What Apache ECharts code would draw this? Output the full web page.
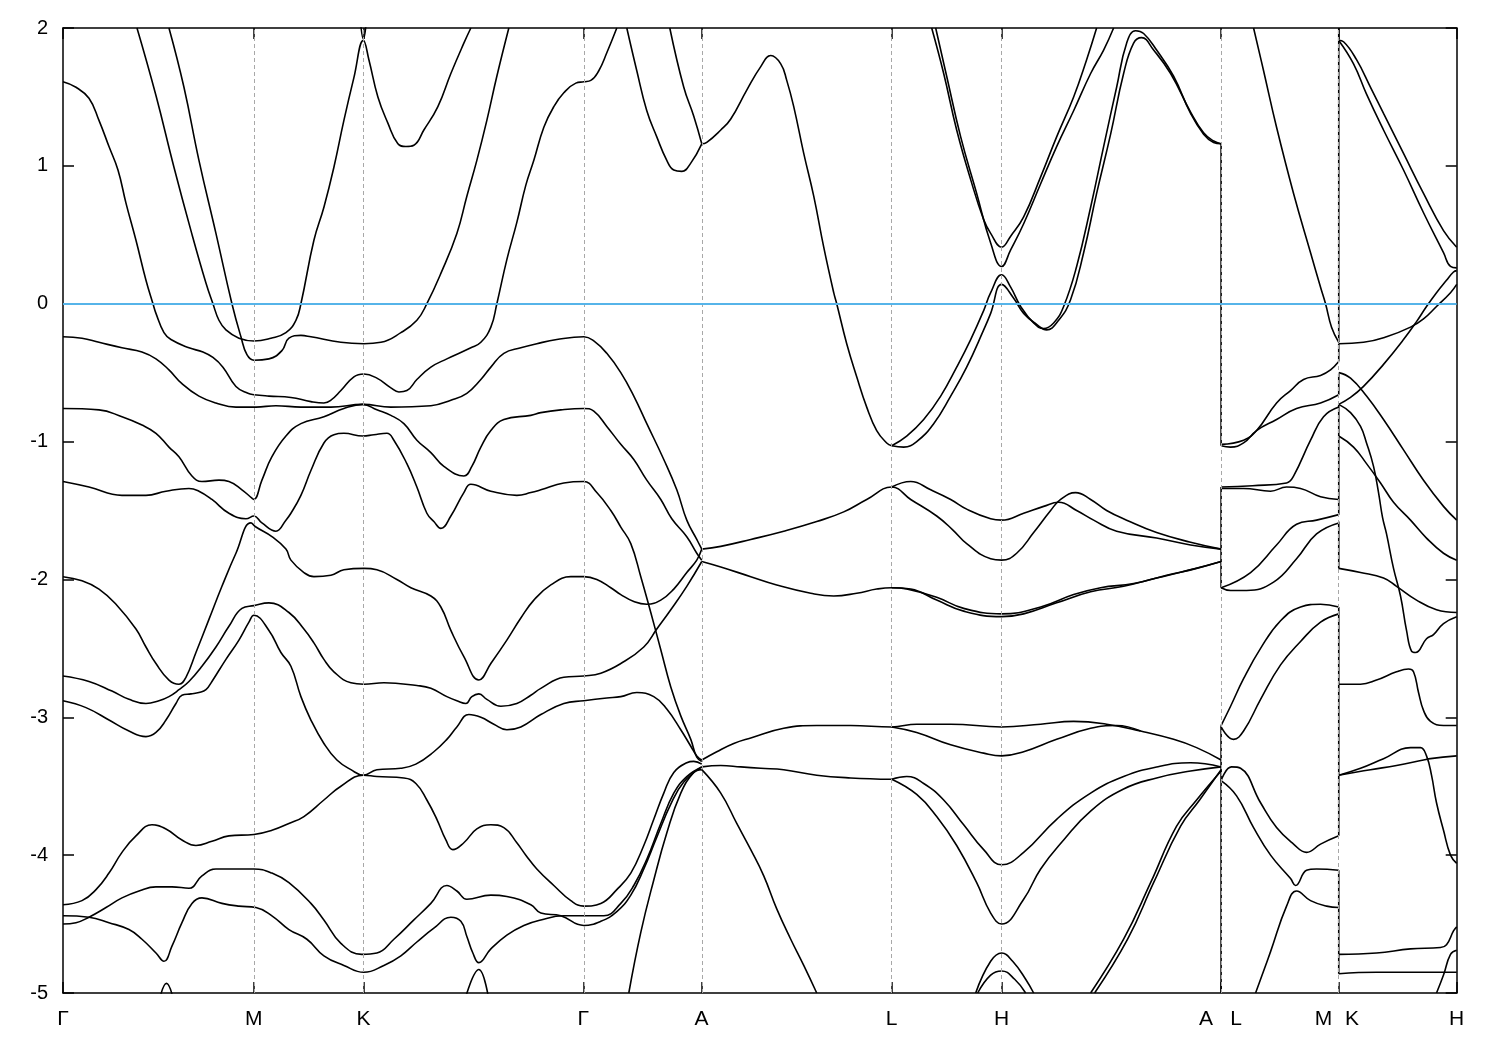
<!DOCTYPE html>
<html><head><meta charset="utf-8">
<script src="https://cdn.jsdelivr.net/npm/echarts@6/dist/echarts.min.js"></script>
<style>html,body{margin:0;padding:0;background:#fff}#chart{width:1500px;height:1050px}</style>
</head><body><div id="chart"></div>
<script>
// k-path positions of the high-symmetry points (arb. units) and labels
const kTicks = [0, 1.908, 3.005, 5.205, 6.388, 8.288, 9.388, 11.585, 12.762, 13.942];
const kLabelPos = [0, 1.908, 3.005, 5.205, 6.388, 8.288, 9.388, 11.435, 11.735, 12.61, 12.895, 13.942];
const kLabels = ['Γ','M','K','Γ','A','L','H','A','L','M','K','H'];
const eMin = -5, eMax = 2, eStep = 1;
const fermiLevel = 0;

// Γ-M-K-Γ-A bands  [k, E(eV)]
const bandG1 = [[0.00,1.61],[0.13,1.57],[0.26,1.49],[0.36,1.33],[0.46,1.14],[0.55,0.97],[0.63,0.73],[0.73,0.46],[0.83,0.17],[0.90,0.00],[0.93,-0.07],[1.01,-0.21],[1.08,-0.26],[1.26,-0.32],[1.40,-0.35],[1.50,-0.39],[1.60,-0.46],[1.73,-0.60],[1.85,-0.65],[1.91,-0.66],[2.06,-0.67],[2.28,-0.68],[2.48,-0.71],[2.61,-0.72],[2.68,-0.70],[2.78,-0.63],[2.91,-0.53],[3.01,-0.51],[3.14,-0.54],[3.28,-0.61],[3.36,-0.64],[3.44,-0.63],[3.54,-0.55],[3.68,-0.46],[3.84,-0.40],[4.08,-0.32],[4.18,-0.28],[4.28,-0.17],[4.34,0.00],[4.44,0.32],[4.54,0.59],[4.63,0.86],[4.71,1.04],[4.81,1.28],[4.91,1.43],[5.01,1.53],[5.13,1.60],[5.21,1.61],[5.28,1.62],[5.36,1.69],[5.44,1.82],[5.54,2.00]];
const bandG2 = [[0.74,2.00],[0.93,1.51],[1.11,0.99],[1.28,0.53],[1.43,0.15],[1.50,0.00],[1.56,-0.12],[1.63,-0.19],[1.76,-0.25],[1.91,-0.27],[2.08,-0.25],[2.23,-0.21],[2.33,-0.12],[2.38,0.00],[2.51,0.46],[2.61,0.70],[2.71,0.99],[2.81,1.33],[2.91,1.64],[3.005,1.91],[3.06,1.77],[3.15,1.50],[3.25,1.31],[3.35,1.16],[3.43,1.14],[3.51,1.15],[3.61,1.26],[3.75,1.43],[3.88,1.67],[4.01,1.89],[4.08,2.00]];
const bandG3 = [[1.06,2.00],[1.21,1.57],[1.36,1.04],[1.53,0.51],[1.69,0.00],[1.78,-0.24],[1.84,-0.37],[1.91,-0.41],[2.06,-0.40],[2.19,-0.34],[2.26,-0.25],[2.38,-0.23],[2.48,-0.24],[2.78,-0.28],[3.01,-0.29],[3.18,-0.28],[3.38,-0.21],[3.54,-0.12],[3.64,0.00],[3.78,0.22],[3.94,0.51],[4.04,0.78],[4.14,1.04],[4.24,1.33],[4.34,1.65],[4.46,2.00]];
const bandG4 = [[0.00,-0.24],[0.19,-0.25],[0.36,-0.28],[0.59,-0.32],[0.79,-0.35],[0.93,-0.40],[1.06,-0.48],[1.19,-0.58],[1.36,-0.67],[1.53,-0.72],[1.73,-0.75],[1.93,-0.75],[2.13,-0.74],[2.38,-0.75],[2.68,-0.75],[3.00,-0.73],[3.28,-0.75],[3.68,-0.74],[3.88,-0.70],[4.04,-0.65],[4.18,-0.55],[4.28,-0.46],[4.41,-0.36],[4.58,-0.32],[4.74,-0.29],[4.94,-0.26],[5.21,-0.24],[5.31,-0.27],[5.44,-0.36],[5.58,-0.50],[5.71,-0.67],[5.84,-0.87],[6.01,-1.13],[6.14,-1.35],[6.24,-1.57],[6.34,-1.71],[6.39,-1.78]];
const bandG5 = [[0.00,-0.76],[0.36,-0.77],[0.59,-0.82],[0.79,-0.88],[0.93,-0.94],[1.06,-1.04],[1.16,-1.11],[1.29,-1.25],[1.39,-1.29],[1.56,-1.28],[1.66,-1.29],[1.79,-1.35],[1.89,-1.41],[1.91,-1.42],[1.99,-1.28],[2.09,-1.11],[2.23,-0.96],[2.38,-0.87],[2.61,-0.82],[2.81,-0.76],[3.00,-0.73],[3.14,-0.77],[3.28,-0.81],[3.41,-0.87],[3.54,-0.99],[3.68,-1.08],[3.81,-1.18],[4.01,-1.25],[4.09,-1.18],[4.18,-1.04],[4.28,-0.92],[4.41,-0.84],[4.68,-0.81],[4.78,-0.79],[4.98,-0.77],[5.21,-0.76],[5.31,-0.78],[5.44,-0.89],[5.58,-1.02],[5.71,-1.13],[5.84,-1.28],[5.98,-1.42],[6.09,-1.56],[6.24,-1.69],[6.34,-1.81],[6.39,-1.86]];
const bandG6 = [[0.00,-1.29],[0.26,-1.33],[0.59,-1.39],[0.83,-1.39],[1.03,-1.36],[1.26,-1.34],[1.36,-1.36],[1.49,-1.42],[1.66,-1.52],[1.83,-1.56],[1.91,-1.54],[1.99,-1.59],[2.13,-1.65],[2.23,-1.57],[2.28,-1.52],[2.38,-1.39],[2.48,-1.21],[2.61,-1.01],[2.71,-0.95],[2.81,-0.94],[3.00,-0.96],[3.11,-0.95],[3.24,-0.94],[3.31,-0.99],[3.44,-1.16],[3.54,-1.33],[3.64,-1.52],[3.71,-1.58],[3.78,-1.63],[3.88,-1.54],[4.01,-1.37],[4.08,-1.31],[4.28,-1.36],[4.54,-1.39],[4.68,-1.37],[4.78,-1.35],[5.01,-1.30],[5.21,-1.29],[5.34,-1.37],[5.48,-1.50],[5.58,-1.62],[5.68,-1.74],[5.78,-1.98],[5.88,-2.24],[5.98,-2.51],[6.08,-2.78],[6.18,-2.99],[6.28,-3.16],[6.34,-3.29],[6.39,-3.32]];
const bandG7 = [[0.00,-1.98],[0.19,-2.01],[0.36,-2.07],[0.53,-2.18],[0.73,-2.36],[0.83,-2.49],[0.93,-2.61],[1.06,-2.73],[1.16,-2.76],[1.23,-2.71],[1.33,-2.53],[1.46,-2.29],[1.59,-2.05],[1.73,-1.81],[1.88,-1.59],[1.93,-1.62],[2.09,-1.69],[2.23,-1.78],[2.28,-1.86],[2.41,-1.95],[2.51,-1.98],[2.68,-1.97],[2.81,-1.93],[3.01,-1.92],[3.14,-1.93],[3.34,-2.00],[3.48,-2.06],[3.68,-2.12],[3.78,-2.20],[3.88,-2.37],[4.01,-2.56],[4.16,-2.73],[4.28,-2.61],[4.44,-2.44],[4.58,-2.28],[4.71,-2.15],[4.88,-2.04],[5.08,-1.98],[5.21,-1.98],[5.34,-2.00],[5.48,-2.06],[5.58,-2.11],[5.71,-2.16],[5.84,-2.18],[5.98,-2.15],[6.11,-2.07],[6.24,-1.95],[6.34,-1.86],[6.39,-1.78]];
const bandG8 = [[0.00,-2.70],[0.26,-2.74],[0.49,-2.81],[0.66,-2.87],[0.83,-2.90],[0.96,-2.88],[1.06,-2.85],[1.16,-2.80],[1.26,-2.74],[1.39,-2.63],[1.53,-2.49],[1.66,-2.34],[1.79,-2.21],[1.91,-2.19],[2.06,-2.17],[2.26,-2.24],[2.41,-2.36],[2.51,-2.46],[2.61,-2.58],[2.71,-2.67],[2.88,-2.75],[3.01,-2.76],[3.21,-2.75],[3.54,-2.77],[3.68,-2.79],[3.84,-2.85],[3.94,-2.88],[4.03,-2.90],[4.09,-2.85],[4.16,-2.83],[4.24,-2.87],[4.38,-2.92],[4.54,-2.90],[4.68,-2.84],[4.78,-2.79],[5.01,-2.71],[5.21,-2.70],[5.38,-2.68],[5.58,-2.61],[5.81,-2.49],[5.94,-2.36],[6.08,-2.22],[6.24,-2.05],[6.39,-1.87]];
const bandG9 = [[0.00,-2.88],[0.23,-2.93],[0.46,-3.02],[0.66,-3.10],[0.83,-3.14],[0.93,-3.11],[1.03,-3.02],[1.13,-2.90],[1.19,-2.84],[1.28,-2.83],[1.36,-2.82],[1.43,-2.80],[1.49,-2.74],[1.63,-2.58],[1.76,-2.44],[1.86,-2.31],[1.91,-2.26],[2.06,-2.37],[2.18,-2.53],[2.28,-2.63],[2.38,-2.85],[2.48,-3.02],[2.61,-3.19],[2.74,-3.31],[2.88,-3.38],[3.005,-3.42],[3.14,-3.38],[3.38,-3.37],[3.53,-3.34],[3.71,-3.25],[3.84,-3.16],[3.94,-3.07],[4.06,-2.98],[4.18,-3.00],[4.31,-3.05],[4.44,-3.09],[4.58,-3.07],[4.78,-2.98],[5.01,-2.90],[5.21,-2.88],[5.44,-2.86],[5.58,-2.85],[5.74,-2.82],[5.91,-2.85],[6.04,-2.94],[6.18,-3.09],[6.28,-3.21],[6.34,-3.28],[6.39,-3.31]];
const bandG10 = [[0.00,-4.36],[0.19,-4.33],[0.33,-4.25],[0.46,-4.13],[0.59,-3.98],[0.73,-3.86],[0.89,-3.78],[1.03,-3.81],[1.19,-3.89],[1.33,-3.93],[1.49,-3.90],[1.66,-3.86],[1.91,-3.85],[2.09,-3.82],[2.26,-3.77],[2.41,-3.72],[2.61,-3.60],[2.78,-3.50],[3.005,-3.42],[3.14,-3.43],[3.41,-3.44],[3.53,-3.48],[3.64,-3.60],[3.74,-3.74],[3.83,-3.89],[3.90,-3.96],[4.01,-3.91],[4.14,-3.81],[4.28,-3.78],[4.41,-3.80],[4.54,-3.91],[4.63,-4.00],[4.74,-4.10],[4.91,-4.22],[5.08,-4.33],[5.21,-4.37],[5.38,-4.35],[5.54,-4.25],[5.68,-4.13],[5.81,-3.93],[5.91,-3.74],[6.01,-3.55],[6.11,-3.40],[6.24,-3.33],[6.31,-3.32],[6.39,-3.34]];
const bandG11 = [[0.00,-4.44],[0.26,-4.45],[0.46,-4.49],[0.66,-4.54],[0.79,-4.61],[0.93,-4.71],[1.01,-4.77],[1.09,-4.66],[1.19,-4.49],[1.29,-4.35],[1.39,-4.31],[1.59,-4.35],[1.76,-4.37],[1.93,-4.38],[2.09,-4.44],[2.26,-4.54],[2.44,-4.61],[2.61,-4.73],[2.81,-4.80],[3.01,-4.85],[3.21,-4.80],[3.38,-4.73],[3.54,-4.63],[3.71,-4.53],[3.88,-4.45],[3.98,-4.48],[4.04,-4.59],[4.10,-4.71],[4.16,-4.78],[4.28,-4.68],[4.44,-4.58],[4.61,-4.51],[4.78,-4.47],[5.01,-4.44],[5.21,-4.44],[5.41,-4.44],[5.58,-4.35],[5.71,-4.22],[5.84,-4.03],[5.98,-3.77],[6.11,-3.55],[6.24,-3.43],[6.39,-3.36]];
const bandG12 = [[0.00,-4.50],[0.13,-4.49],[0.26,-4.45],[0.43,-4.38],[0.59,-4.31],[0.76,-4.26],[0.93,-4.23],[1.09,-4.23],[1.26,-4.24],[1.39,-4.15],[1.53,-4.10],[1.73,-4.10],[1.91,-4.10],[2.09,-4.13],[2.26,-4.20],[2.48,-4.35],[2.61,-4.47],[2.78,-4.64],[2.99,-4.72],[3.14,-4.71],[3.31,-4.61],[3.51,-4.47],[3.68,-4.35],[3.84,-4.22],[3.94,-4.26],[4.04,-4.32],[4.28,-4.29],[4.44,-4.30],[4.68,-4.36],[4.78,-4.42],[4.98,-4.44],[5.21,-4.51],[5.38,-4.48],[5.54,-4.41],[5.68,-4.29],[5.81,-4.10],[5.94,-3.87],[6.08,-3.63],[6.21,-3.47],[6.39,-3.36]];
const tipK = [[2.975,2.05],[3.005,1.92],[3.035,2.05]];
const bumpLow1 = [[0.965,-5.05],[1.035,-4.93],[1.105,-5.05]];
const bumpLow2 = [[4.02,-5.05],[4.16,-4.83],[4.26,-5.05]];
const steepA1 = [[5.66,-5.00],[5.78,-4.56],[5.91,-4.18],[6.04,-3.84],[6.18,-3.55],[6.31,-3.40],[6.39,-3.38]];
const steepA2 = [[6.39,-3.38],[6.58,-3.55],[6.74,-3.77],[6.88,-3.96],[7.01,-4.15],[7.14,-4.39],[7.28,-4.61],[7.41,-4.80],[7.54,-5.00]];
const topGA1 = [[5.64,2.00],[5.74,1.69],[5.84,1.40],[5.94,1.21],[6.04,1.04],[6.11,0.97],[6.19,0.96],[6.28,1.02],[6.39,1.16]];
const topGA2 = [[6.07,2.00],[6.21,1.57],[6.31,1.36],[6.39,1.16]];

// A-L-H-A bands
const bandAL = [[6.39,1.16],[6.44,1.17],[6.58,1.26],[6.68,1.34],[6.84,1.55],[6.98,1.72],[7.08,1.80],[7.18,1.74],[7.24,1.62],[7.31,1.43],[7.41,1.09],[7.51,0.78],[7.61,0.41],[7.71,0.08],[7.74,0.00],[7.84,-0.29],[7.94,-0.53],[8.04,-0.75],[8.14,-0.92],[8.24,-1.01],[8.29,-1.03]];
const bandLH1 = [[8.29,-1.03],[8.44,-0.96],[8.61,-0.84],[8.78,-0.67],[8.94,-0.46],[9.08,-0.26],[9.21,-0.05],[9.28,0.08],[9.39,0.21],[9.48,0.12],[9.58,-0.02],[9.71,-0.14],[9.81,-0.18],[9.91,-0.14],[10.01,-0.02],[10.14,0.27],[10.28,0.70],[10.41,1.14],[10.54,1.57],[10.64,1.89],[10.73,1.98],[10.81,1.96],[10.94,1.84],[11.11,1.65],[11.28,1.38],[11.41,1.23],[11.51,1.17],[11.585,1.16]];
const bandLH2 = [[8.29,-1.03],[8.41,-1.04],[8.54,-1.00],[8.71,-0.87],[8.88,-0.67],[9.04,-0.46],[9.21,-0.19],[9.28,-0.07],[9.39,0.14],[9.51,0.04],[9.61,-0.07],[9.74,-0.15],[9.84,-0.19],[9.96,-0.12],[10.08,0.03],[10.21,0.37],[10.34,0.80],[10.48,1.23],[10.61,1.67],[10.71,1.89],[10.79,1.93],[10.91,1.84],[11.08,1.67],[11.28,1.39],[11.41,1.24],[11.51,1.18],[11.585,1.16]];
const bandHC1 = [[8.69,2.00],[8.81,1.67],[8.94,1.26],[9.08,0.90],[9.21,0.61],[9.28,0.51],[9.39,0.41],[9.48,0.49],[9.61,0.63],[9.78,0.92],[9.94,1.21],[10.11,1.50],[10.24,1.77],[10.34,2.00]];
const bandHC2 = [[8.73,2.00],[8.84,1.65],[8.98,1.21],[9.14,0.80],[9.28,0.44],[9.39,0.27],[9.48,0.39],[9.61,0.58],[9.78,0.87],[9.94,1.14],[10.11,1.40],[10.28,1.67],[10.41,1.84],[10.51,2.00]];
const bandX1 = [[6.39,-1.78],[6.58,-1.76],[6.88,-1.71],[7.21,-1.65],[7.54,-1.58],[7.81,-1.51],[8.04,-1.42],[8.29,-1.33],[8.48,-1.42],[8.74,-1.54],[8.90,-1.64],[9.04,-1.74],[9.28,-1.85],[9.39,-1.86],[9.54,-1.81],[9.71,-1.66],[9.88,-1.50],[9.98,-1.42],[10.13,-1.37],[10.28,-1.42],[10.44,-1.50],[10.64,-1.57],[10.94,-1.66],[11.28,-1.73],[11.585,-1.78]];
const bandX2 = [[8.29,-1.33],[8.48,-1.29],[8.68,-1.35],[8.88,-1.42],[9.04,-1.49],[9.28,-1.56],[9.39,-1.57],[9.61,-1.52],[9.81,-1.47],[9.96,-1.44],[10.14,-1.50],[10.31,-1.57],[10.54,-1.65],[10.94,-1.70],[11.28,-1.75],[11.585,-1.78]];
const bandY1 = [[6.39,-1.87],[6.58,-1.91],[6.88,-1.98],[7.14,-2.04],[7.48,-2.10],[7.71,-2.12],[7.94,-2.10],[8.14,-2.07],[8.29,-2.06],[8.48,-2.07],[8.74,-2.15],[9.01,-2.23],[9.39,-2.27],[9.61,-2.25],[9.94,-2.17],[10.28,-2.09],[10.61,-2.05],[10.94,-1.99],[11.28,-1.93],[11.585,-1.87]];
const bandY2 = [[8.29,-2.06],[8.44,-2.07],[8.74,-2.13],[9.01,-2.21],[9.39,-2.25],[9.78,-2.20],[10.11,-2.11],[10.38,-2.06],[10.71,-2.03],[11.04,-1.97],[11.34,-1.92],[11.585,-1.87]];
const bandZ1 = [[6.39,-3.31],[6.54,-3.25],[6.71,-3.19],[6.88,-3.15],[7.21,-3.08],[7.54,-3.06],[7.88,-3.06],[8.29,-3.07],[8.54,-3.05],[8.88,-3.05],[9.39,-3.07],[9.78,-3.05],[10.11,-3.03],[10.44,-3.05],[10.78,-3.10],[11.11,-3.16],[11.34,-3.22],[11.585,-3.31]];
const bandZ2 = [[8.29,-3.07],[8.54,-3.11],[8.88,-3.20],[9.21,-3.26],[9.39,-3.28],[9.61,-3.25],[9.94,-3.16],[10.28,-3.08],[10.54,-3.06],[10.78,-3.10]];
const bandZ3 = [[6.39,-3.36],[6.58,-3.35],[6.78,-3.36],[6.98,-3.37],[7.21,-3.38],[7.54,-3.42],[7.88,-3.44],[8.29,-3.45]];
const bandLHb1 = [[8.29,-3.45],[8.44,-3.43],[8.61,-3.48],[8.81,-3.60],[9.01,-3.78],[9.21,-3.96],[9.39,-4.07],[9.61,-3.98],[9.94,-3.74],[10.28,-3.55],[10.61,-3.43],[10.94,-3.36],[11.28,-3.33],[11.585,-3.36]];
const bandLHb2 = [[8.29,-3.45],[8.54,-3.56],[8.74,-3.72],[8.94,-3.93],[9.14,-4.20],[9.28,-4.42],[9.39,-4.50],[9.61,-4.32],[9.78,-4.10],[10.01,-3.89],[10.28,-3.68],[10.61,-3.52],[10.94,-3.44],[11.28,-3.39],[11.585,-3.36]];
const bandSa = [[10.28,-5.00],[10.61,-4.61],[10.88,-4.20],[11.14,-3.79],[11.34,-3.60],[11.585,-3.39]];
const bandSb = [[10.32,-5.00],[10.65,-4.61],[10.91,-4.20],[11.18,-3.79],[11.37,-3.60],[11.585,-3.38]];
const bandHb1 = [[9.13,-5.00],[9.28,-4.77],[9.39,-4.71],[9.50,-4.77],[9.63,-4.90],[9.71,-5.00]];
const bandHb2 = [[9.15,-5.00],[9.28,-4.87],[9.39,-4.84],[9.52,-4.90],[9.63,-5.00]];

// L-M bands
const bandLM0 = [[11.91,2.00],[12.01,1.69],[12.14,1.28],[12.31,0.80],[12.48,0.37],[12.58,0.12],[12.63,0.00],[12.69,-0.17],[12.762,-0.28]];
const bandLM1 = [[11.585,-1.03],[11.68,-1.04],[11.81,-1.01],[11.94,-0.92],[12.14,-0.84],[12.34,-0.76],[12.58,-0.72],[12.762,-0.66]];
const bandLM2 = [[11.585,-1.02],[11.81,-0.99],[11.94,-0.92],[12.14,-0.72],[12.28,-0.63],[12.41,-0.55],[12.58,-0.52],[12.68,-0.48],[12.762,-0.42]];
const bandLM3 = [[11.585,-1.33],[11.90,-1.32],[12.24,-1.30],[12.31,-1.25],[12.48,-0.99],[12.61,-0.82],[12.762,-0.75]];
const bandLM4 = [[11.585,-1.34],[11.81,-1.34],[12.08,-1.36],[12.24,-1.33],[12.38,-1.34],[12.58,-1.40],[12.762,-1.42]];
const bandLM5 = [[11.585,-2.06],[11.68,-2.08],[11.84,-2.08],[12.11,-2.02],[12.34,-1.85],[12.54,-1.67],[12.762,-1.59]];
const bandLM6 = [[11.585,-2.06],[11.88,-1.95],[12.14,-1.75],[12.34,-1.60],[12.54,-1.57],[12.762,-1.53]];
const bandLM7 = [[11.585,-3.06],[11.68,-2.92],[11.81,-2.72],[11.98,-2.50],[12.18,-2.30],[12.38,-2.20],[12.58,-2.18],[12.762,-2.20]];
const bandLM8 = [[11.585,-3.07],[11.71,-3.16],[11.81,-3.10],[11.98,-2.87],[12.18,-2.62],[12.38,-2.45],[12.58,-2.31],[12.762,-2.25]];
const bandLM9 = [[11.585,-3.46],[11.69,-3.36],[11.78,-3.37],[11.98,-3.62],[12.14,-3.80],[12.31,-3.92],[12.44,-3.98],[12.58,-3.92],[12.762,-3.86]];
const bandLM10 = [[11.585,-3.46],[11.74,-3.57],[11.91,-3.80],[12.08,-4.00],[12.28,-4.17],[12.33,-4.22],[12.44,-4.11],[12.54,-4.10],[12.762,-4.11]];
const bandLM11 = [[11.93,-5.00],[12.08,-4.70],[12.24,-4.37],[12.34,-4.26],[12.48,-4.33],[12.64,-4.37],[12.762,-4.38]];

// K-H bands
const bandKH1 = [[12.762,1.91],[12.81,1.90],[12.94,1.77],[13.08,1.57],[13.21,1.38],[13.41,1.09],[13.61,0.80],[13.81,0.53],[13.942,0.41]];
const bandKH2 = [[12.762,1.91],[12.91,1.74],[13.04,1.52],[13.21,1.26],[13.41,0.97],[13.61,0.66],[13.81,0.37],[13.88,0.27],[13.942,0.26]];
const bandKH3 = [[12.762,-0.29],[13.01,-0.28],[13.24,-0.24],[13.48,-0.17],[13.61,-0.11],[13.74,-0.02],[13.88,0.08],[13.942,0.14]];
const bandKH4 = [[12.762,-0.73],[12.88,-0.68],[13.01,-0.60],[13.21,-0.44],[13.41,-0.26],[13.54,-0.13],[13.64,-0.02],[13.74,0.08],[13.84,0.17],[13.91,0.23],[13.942,0.24]];
const bandKH5 = [[12.762,-0.50],[12.88,-0.54],[13.04,-0.67],[13.21,-0.84],[13.41,-1.06],[13.61,-1.28],[13.81,-1.47],[13.942,-1.57]];
const bandKH6 = [[12.762,-0.73],[12.88,-0.79],[12.98,-0.89],[13.04,-1.01],[13.11,-1.18],[13.16,-1.37],[13.20,-1.55],[13.24,-1.67],[13.31,-1.92],[13.38,-2.12],[13.44,-2.37],[13.49,-2.52],[13.53,-2.53],[13.64,-2.43],[13.71,-2.40],[13.81,-2.32],[13.942,-2.27]];
const bandKH7 = [[12.762,-0.96],[12.91,-1.04],[13.04,-1.16],[13.18,-1.30],[13.31,-1.44],[13.48,-1.57],[13.64,-1.70],[13.81,-1.81],[13.942,-1.86]];
const bandKH8 = [[12.762,-1.92],[12.98,-1.95],[13.21,-1.99],[13.34,-2.05],[13.54,-2.15],[13.74,-2.22],[13.942,-2.24]];
const bandKH9 = [[12.762,-2.76],[12.98,-2.76],[13.14,-2.73],[13.34,-2.67],[13.46,-2.65],[13.51,-2.67],[13.56,-2.82],[13.61,-2.95],[13.68,-3.03],[13.81,-3.06],[13.942,-3.06]];
const bandKH10 = [[12.762,-3.42],[12.98,-3.37],[13.21,-3.30],[13.48,-3.22],[13.58,-3.22],[13.64,-3.28],[13.69,-3.42],[13.74,-3.62],[13.81,-3.82],[13.88,-4.00],[13.942,-4.06]];
const bandKH11 = [[12.762,-3.42],[13.08,-3.38],[13.34,-3.35],[13.61,-3.31],[13.68,-3.30],[13.942,-3.28]];
const bandKH12 = [[12.762,-4.72],[13.14,-4.71],[13.48,-4.68],[13.78,-4.67],[13.84,-4.65],[13.91,-4.55],[13.942,-4.52]];
const bandKH13 = [[12.762,-4.86],[13.14,-4.85],[13.48,-4.85],[13.942,-4.85]];
const bandKH14 = [[13.74,-5.00],[13.81,-4.87],[13.88,-4.72],[13.942,-4.69]];

// band jumps drawn at the path discontinuities A|L and M|K: [k, E_from, E_to]
const jumpAL = [[11.585,1.16,-1.03],[11.585,-1.33,-2.06],[11.585,-3.06,-5.0]];
const jumpMK = [[12.762,2.0,-0.28],[12.762,-0.29,-0.42],[12.762,-0.51,-0.66],[12.762,-0.73,-1.53],[12.762,-1.58,-1.92],[12.762,-2.20,-3.86],[12.762,-4.11,-4.86]];

const bands = [bandG1,bandG2,bandG3,bandG4,bandG5,bandG6,bandG7,bandG8,bandG9,bandG10,bandG11,bandG12,
  tipK,bumpLow1,bumpLow2,steepA1,steepA2,topGA1,topGA2,
  bandAL,bandLH1,bandLH2,bandHC1,bandHC2,bandX1,bandX2,bandY1,bandY2,bandZ1,bandZ2,bandZ3,bandLHb1,bandLHb2,bandSa,bandSb,bandHb1,bandHb2,
  bandLM0,bandLM1,bandLM2,bandLM3,bandLM4,bandLM5,bandLM6,bandLM7,bandLM8,bandLM9,bandLM10,bandLM11,
  bandKH1,bandKH2,bandKH3,bandKH4,bandKH5,bandKH6,bandKH7,bandKH8,bandKH9,bandKH10,bandKH11,bandKH12,bandKH13,bandKH14];

const FONT = 'Liberation Sans, Arial, sans-serif';
const bandStyle = {color:'#000000', width:1.6};
const series = [];
series.push({
  type:'line', data:[[0,-10]], showSymbol:false, silent:true, z:1,
  markLine:{symbol:'none', silent:true, animation:false, label:{show:false},
    lineStyle:{color:'#a8a8a8', type:[4,3], width:1},
    data:kTicks.slice(1,-1).map(v=>({xAxis:v}))}
});
series.push({
  type:'line', data:[[0,-10]], showSymbol:false, silent:true, z:2,
  markLine:{symbol:'none', silent:true, animation:false, label:{show:false},
    lineStyle:{color:'#56b4e9', type:'solid', width:2},
    data:[{yAxis:fermiLevel}]}
});
bands.forEach(b => series.push({type:'line', data:b, showSymbol:false, symbol:'none', smooth:0.45, lineStyle:bandStyle, silent:true, z:3, clip:true}));
jumpAL.concat(jumpMK).forEach(j => series.push({type:'line', data:[[j[0],j[1]],[j[0],j[2]]], showSymbol:false, symbol:'none', lineStyle:bandStyle, silent:true, z:3, clip:true}));

function labelFor(v){
  let best=-1, bd=1e9;
  kLabelPos.forEach((p,i)=>{const d=Math.abs(p-v); if(d<bd){bd=d;best=i;}});
  return bd<1e-3 ? kLabels[best] : '';
}
const axLine = {show:true, onZero:false, lineStyle:{color:'#000', width:1.5}};
const chart = echarts.init(document.getElementById('chart'), null, {renderer:'canvas'});
chart.setOption({
  animation:false,
  backgroundColor:'#ffffff',
  grid:{left:63, top:28, width:1393.7, height:965, containLabel:false},
  xAxis:[{
    type:'value', min:kTicks[0], max:kTicks[kTicks.length-1], position:'bottom',
    axisLine:axLine,
    axisTick:{show:true, inside:true, length:11, customValues:kTicks, lineStyle:{color:'#000', width:1.5}},
    axisLabel:{show:true, customValues:kLabelPos, formatter:labelFor, color:'#000', fontSize:21, fontFamily:FONT, margin:16},
    splitLine:{show:false}
  },{
    type:'value', min:kTicks[0], max:kTicks[kTicks.length-1], position:'top',
    axisLine:axLine,
    axisTick:{show:true, inside:true, length:11, customValues:kTicks, lineStyle:{color:'#000', width:1.5}},
    axisLabel:{show:false}, splitLine:{show:false}
  }],
  yAxis:[{
    type:'value', min:eMin, max:eMax, interval:eStep, position:'left',
    axisLine:axLine,
    axisTick:{show:true, inside:true, length:11, lineStyle:{color:'#000', width:1.5}},
    axisLabel:{show:true, color:'#000', fontSize:20, fontFamily:FONT, margin:15},
    splitLine:{show:false}
  },{
    type:'value', min:eMin, max:eMax, interval:eStep, position:'right',
    axisLine:axLine,
    axisTick:{show:true, inside:true, length:11, lineStyle:{color:'#000', width:1.5}},
    axisLabel:{show:false}, splitLine:{show:false}
  }],
  series: series
});
</script></body></html>
